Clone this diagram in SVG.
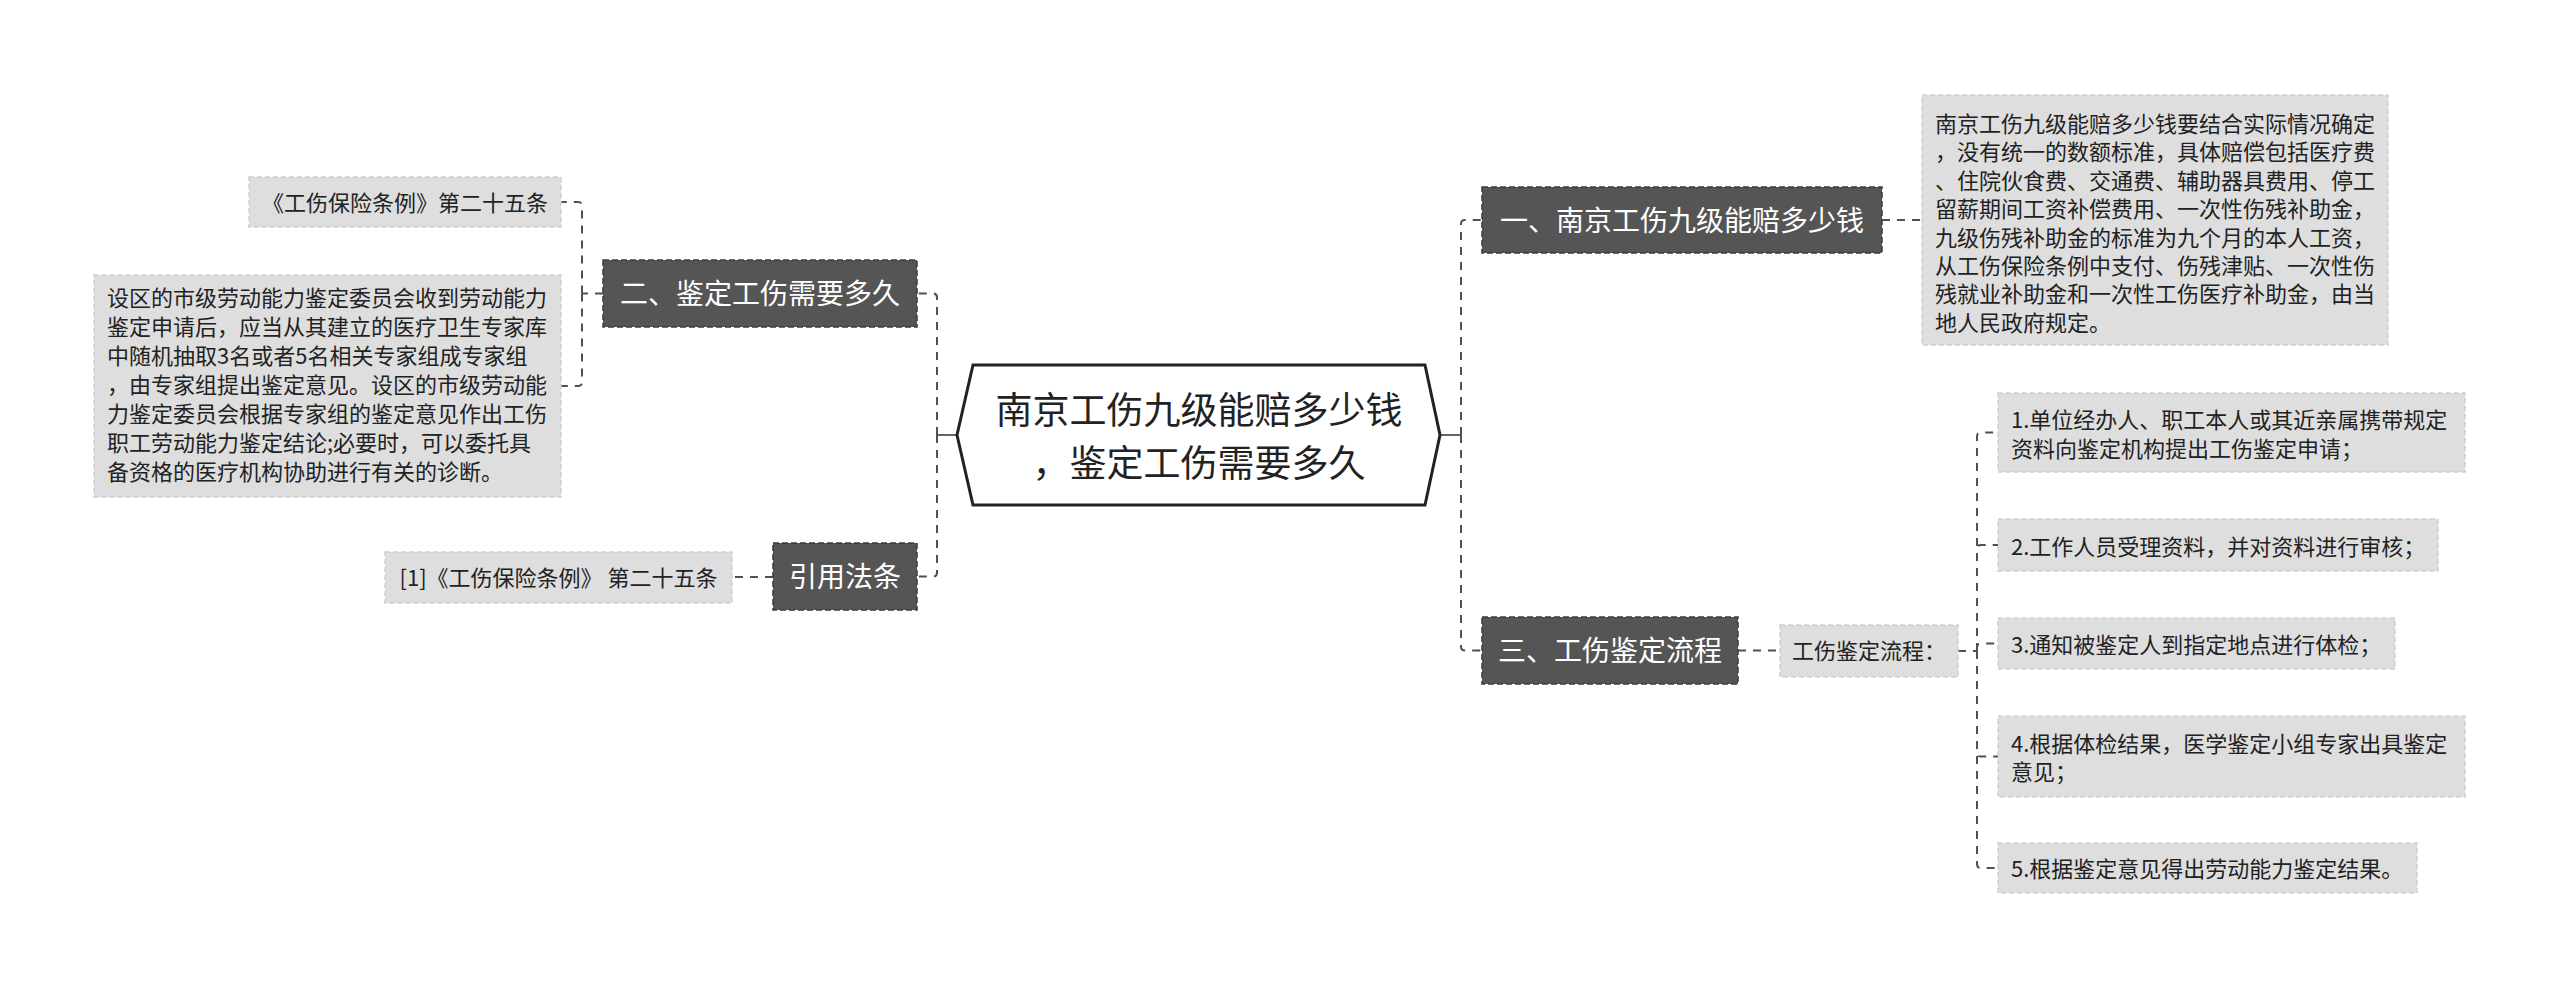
<svg xmlns="http://www.w3.org/2000/svg" width="2560" height="990" viewBox="0 0 2560 990">
<style>
text{font-family:"Noto Sans CJK SC","Noto Sans",sans-serif;}
.dark{fill:#555555;stroke:#3c3c3c;stroke-width:1.5;stroke-dasharray:6 3;}
.light{fill:#dedede;stroke:#cfcfcf;stroke-width:1.5;stroke-dasharray:5 3;}
.dt{fill:#ffffff;font-size:28px;text-anchor:middle;}
.lt{fill:#222222;font-size:22px;}
.ltc{fill:#222222;font-size:22px;text-anchor:middle;}
.conn{fill:none;stroke:#505050;stroke-width:2;stroke-dasharray:8 7;}
.solid{fill:none;stroke:#666666;stroke-width:2;}
</style>
<rect width="2560" height="990" fill="#ffffff"/>
<g id="connectors">
<path class="solid" d="M1440,435 H1461"/>
<path class="conn" d="M1461,435 V224 Q1461,220 1465,220 H1482"/>
<path class="conn" d="M1461,435 V646.5 Q1461,650.5 1465,650.5 H1482"/>
<path class="conn" d="M1882,220 H1922"/>
<path class="conn" d="M1738,650.5 H1780"/>
<path class="conn" d="M1958,651 H1977"/>
<path class="conn" d="M1977,651 V436.5 Q1977,432.5 1981,432.5 H1998"/>
<path class="conn" d="M1977,651 V549 Q1977,545 1981,545 H1998"/>
<path class="conn" d="M1977,651 V647.5 Q1977,643.5 1981,643.5 H1998"/>
<path class="conn" d="M1977,651 V752.5 Q1977,756.5 1981,756.5 H1998"/>
<path class="conn" d="M1977,651 V864 Q1977,868 1981,868 H1998"/>
<path class="solid" d="M957,435 H937"/>
<path class="conn" d="M937,435 V297.5 Q937,293.5 933,293.5 H917"/>
<path class="conn" d="M937,435 V572.5 Q937,576.5 933,576.5 H917"/>
<path class="conn" d="M603,293.5 H582"/>
<path class="conn" d="M582,293.5 V206 Q582,202 578,202 H561"/>
<path class="conn" d="M582,293.5 V382 Q582,386 578,386 H561"/>
<path class="conn" d="M773,577 H732"/>
</g>
<g id="root">
<polygon points="973,365 1425,365 1440,435 1425,505 973,505 957,435" fill="#ffffff" stroke="#222222" stroke-width="3"/>
<text x="1199" y="424" font-size="37" fill="#222222" text-anchor="middle">南京工伤九级能赔多少钱</text>
<text x="1199" y="476.5" font-size="37" fill="#222222" text-anchor="middle">，鉴定工伤需要多久</text>
</g>
<g id="n1">
<rect class="dark" x="1482" y="187" width="400" height="66"/>
<text class="dt" x="1682" y="231">一、南京工伤九级能赔多少钱</text>
</g>
<g id="n1a">
<rect class="light" x="1922" y="95" width="466" height="250"/>
<text class="lt" x="1935" y="132">南京工伤九级能赔多少钱要结合实际情况确定</text>
<text class="lt" x="1935" y="160.4">，没有统一的数额标准，具体赔偿包括医疗费</text>
<text class="lt" x="1935" y="188.8">、住院伙食费、交通费、辅助器具费用、停工</text>
<text class="lt" x="1935" y="217.2">留薪期间工资补偿费用、一次性伤残补助金，</text>
<text class="lt" x="1935" y="245.6">九级伤残补助金的标准为九个月的本人工资，</text>
<text class="lt" x="1935" y="274">从工伤保险条例中支付、伤残津贴、一次性伤</text>
<text class="lt" x="1935" y="302.4">残就业补助金和一次性工伤医疗补助金，由当</text>
<text class="lt" x="1935" y="330.8">地人民政府规定。</text>
</g>
<g id="n3">
<rect class="dark" x="1482" y="617" width="256" height="67"/>
<text class="dt" x="1610" y="661">三、工伤鉴定流程</text>
</g>
<g id="n3a">
<rect class="light" x="1780" y="625" width="178" height="52"/>
<text class="ltc" x="1869" y="659">工伤鉴定流程：</text>
</g>
<g id="s1">
<rect class="light" x="1998" y="393" width="467" height="79"/>
<text class="lt" x="2011" y="428">1.单位经办人、职工本人或其近亲属携带规定</text>
<text class="lt" x="2011" y="456.5">资料向鉴定机构提出工伤鉴定申请；</text>
</g>
<g id="s2">
<rect class="light" x="1998" y="519" width="440" height="52"/>
<text class="lt" x="2011" y="555">2.工作人员受理资料，并对资料进行审核；</text>
</g>
<g id="s3">
<rect class="light" x="1998" y="618" width="397" height="51"/>
<text class="lt" x="2011" y="652.5">3.通知被鉴定人到指定地点进行体检；</text>
</g>
<g id="s4">
<rect class="light" x="1998" y="716" width="467" height="81"/>
<text class="lt" x="2011" y="751.5">4.根据体检结果，医学鉴定小组专家出具鉴定</text>
<text class="lt" x="2011" y="780">意见；</text>
</g>
<g id="s5">
<rect class="light" x="1998" y="843" width="419" height="50"/>
<text class="lt" x="2011" y="877">5.根据鉴定意见得出劳动能力鉴定结果。</text>
</g>
<g id="n2">
<rect class="dark" x="603" y="260" width="314" height="67"/>
<text class="dt" x="760" y="304">二、鉴定工伤需要多久</text>
</g>
<g id="n2a">
<rect class="light" x="249" y="177" width="312" height="50"/>
<text class="ltc" x="405" y="210.5">《工伤保险条例》第二十五条</text>
</g>
<g id="n2b">
<rect class="light" x="94" y="275" width="467" height="222"/>
<text class="lt" x="107" y="306">设区的市级劳动能力鉴定委员会收到劳动能力</text>
<text class="lt" x="107" y="335">鉴定申请后，应当从其建立的医疗卫生专家库</text>
<text class="lt" x="107" y="364">中随机抽取3名或者5名相关专家组成专家组</text>
<text class="lt" x="107" y="393">，由专家组提出鉴定意见。设区的市级劳动能</text>
<text class="lt" x="107" y="422">力鉴定委员会根据专家组的鉴定意见作出工伤</text>
<text class="lt" x="107" y="451">职工劳动能力鉴定结论;必要时，可以委托具</text>
<text class="lt" x="107" y="480">备资格的医疗机构协助进行有关的诊断。</text>
</g>
<g id="n4">
<rect class="dark" x="773" y="543" width="144" height="67"/>
<text class="dt" x="845" y="587">引用法条</text>
</g>
<g id="n4a">
<rect class="light" x="385" y="552" width="347" height="51"/>
<text class="ltc" x="558.5" y="586">[1]《工伤保险条例》 第二十五条</text>
</g>
</svg>
